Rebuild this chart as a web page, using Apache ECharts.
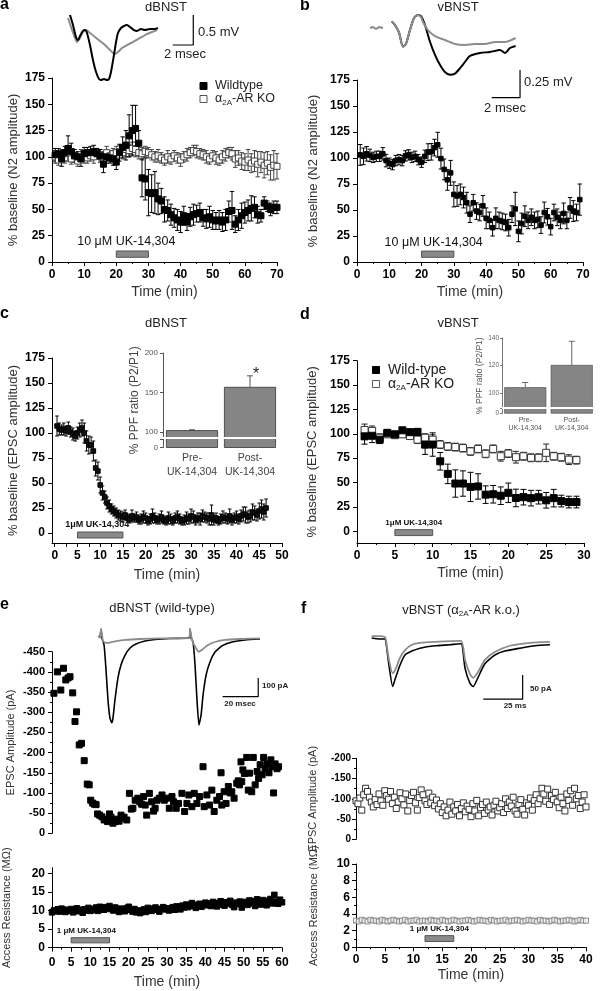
<!DOCTYPE html>
<html><head><meta charset="utf-8">
<script src="https://cdn.jsdelivr.net/npm/echarts@6/dist/echarts.min.js"></script>
<style>html,body{margin:0;padding:0;background:#fff}#c{width:600px;height:991px}</style>
</head><body><div id="c"></div>
<script>
const FONT = "'Liberation Sans', Arial, Helvetica, sans-serif";

// ---------- Panel a (dBNST field potentials) ----------
const aTime = [1,2,3,4,5,6,7,8,9,10,11,12,13,14,15,16,17,18,19,20,21,22,23,24,25,26,27,28,29,30,31,32,33,34,35,36,37,38,39,40,41,42,43,44,45,46,47,48,49,50,51,52,53,54,55,56,57,58,59,60,61,62,63,64,65,66,67,68,69,70];
const aWT = [102,103,98,104,108,105,101,100,98,103, 104,104,105,103,101,93,100,99,98,95, 104,109,111,120,125,127,113,80,79,66, 65,66,60,58,50,49,45,42,40,38, 44,38,43,45,46,47,42,41,43,40, 39,40,38,40,48,49,36,40,44,47, 49,51,52,45,44,56,53,50,52,52];
const aWTErr = [6,5,7,6,12,8,6,5,7,6, 5,6,6,5,6,8,6,5,6,7, 8,10,14,20,24,22,12,18,20,22, 18,20,15,12,12,10,10,9,10,10, 9,8,9,10,8,9,8,9,10,9, 8,9,9,10,10,18,8,10,12,10, 10,12,10,8,6,6,5,6,6,6];
const aKO = [100,97,101,99,103,98,101,96,102,100, 99,101,100,103,102,100,104,101,103,104, 105,104,107,106,108,107,104,103,105,104, 102,100,101,99,97,100,98,101,99,97, 100,102,104,106,105,103,102,100,98,101, 99,97,100,102,104,103,98,99,96,95, 97,94,96,93,95,92,94,90,92,91];
const aKOErr = [6,5,6,5,6,5,6,5,5,6, 5,5,6,5,5,5,6,5,5,6, 6,6,7,6,6,7,6,6,5,5, 5,5,6,5,5,6,5,5,5,6, 5,6,5,5,6,5,5,6,5,5, 6,5,6,6,5,6,8,7,8,8, 10,9,10,12,10,12,11,12,14,12];
const aDrug = [20, 30];
const aTraceBlack = [[0.97,0.083],[1.26,-0.083],[1.55,-0.283],[1.75,-0.333],[1.94,-0.267],[2.23,-0.183],[2.43,-0.167],[2.62,-0.217],[2.91,-0.417],[3.2,-0.667],[3.5,-0.867],[3.79,-0.983],[3.98,-1.0],[4.27,-0.983],[4.56,-1.0],[4.76,-0.983],[4.95,-0.867],[5.24,-0.583],[5.44,-0.367],[5.63,-0.217],[5.92,-0.133],[6.21,-0.1],[6.5,-0.083],[6.8,-0.117],[7.18,-0.167],[7.48,-0.183],[7.86,-0.15],[8.25,-0.167],[8.74,-0.15],[9.22,-0.15],[9.51,-0.133]];
const aTraceGray = [[0.78,0.033],[1.17,-0.167],[1.46,-0.3],[1.65,-0.367],[1.94,-0.3],[2.23,-0.2],[2.52,-0.167],[2.91,-0.217],[3.4,-0.283],[3.88,-0.35],[4.37,-0.417],[4.85,-0.5],[5.15,-0.55],[5.34,-0.567],[5.63,-0.533],[6.02,-0.467],[6.5,-0.417],[7.09,-0.367],[7.57,-0.317],[7.96,-0.283],[8.45,-0.233],[8.93,-0.2],[9.42,-0.167]];

// ---------- Panel b (vBNST field potentials) ----------
const bTime = [1,2,3,4,5,6,7,8,9,10,11,12,13,14,15,16,17,18,19,20,21,22,23,24,25,26,27,28,29,30,31,32,33,34,35,36,37,38,39,40,41,42,43,44,45,46,47,48,49,50,51,52,53,54,55,56,57,58,59,60,61,62,63,64,65,66,67,68,69];
const bVal = [103,101.6,104,102.5,100.6,101.6,101.6,104,97.5,95, 93.7,97.5,98.4,97.5,102,103,100.6,101.6,98.4,96, 101.6,105.7,106,110,112.7,99.4,89,79,85.7,65, 63.5,65,62,57,46,57,49,47.6,54,42, 40,33,42,40,39,38,33,46,51,29.5, 37,44,40,43,40,41,35.5,47.6,43.5,34, 47.6,43,40,46.7,40,52,49,47.6,60];
const bErr = [10,8,7,6,5,5,5,6,6,5, 5,5,5,5,5,5,5,5,5,5, 6,8,8,8,12,10,10,10,12,12, 10,10,10,10,8,8,8,8,10,10, 8,8,10,8,8,8,8,8,16,10, 10,10,8,8,8,8,8,10,8,8, 8,8,8,10,8,10,10,8,15];
const bDrug = [20, 30];
const bTraceArtifact = [[0.71,-0.058],[0.92,-0.049],[1.13,-0.067],[1.34,-0.049],[1.63,-0.058]];
const bTraceBlack = [[2.24,0.0],[2.47,-0.03],[2.76,-0.1],[3.04,-0.226],[3.25,-0.2],[3.53,-0.076],[3.82,0.033],[4.1,0.06],[4.31,0.05],[4.59,-0.03],[4.95,-0.184],[5.3,-0.3],[5.65,-0.39],[6.0,-0.455],[6.36,-0.48],[6.71,-0.47],[7.07,-0.42],[7.42,-0.364],[7.77,-0.31],[8.48,-0.283],[9.19,-0.274],[9.89,-0.256],[10.25,-0.283],[10.6,-0.238],[11.0,-0.22]];
const bTraceGray = [[2.24,0.0],[2.47,-0.03],[2.76,-0.1],[3.04,-0.226],[3.25,-0.2],[3.53,-0.076],[3.82,0.033],[4.1,0.06],[4.31,0.04],[4.45,-0.004],[4.8,-0.076],[5.3,-0.13],[6.0,-0.166],[6.71,-0.202],[7.42,-0.21],[8.13,-0.202],[8.83,-0.202],[9.54,-0.184],[10.25,-0.184],[11.0,-0.148]];

// ---------- Panel c (dBNST EPSC) ----------
const cStep = 0.5;
const cVal = [107,104,103,104,102,105,101,99,97,100, 103,105,100,92,88,88,82,65,62,48, 40,36,30,27,24,22,20,18,17,16, 18,15,14,17,15,16,13,14,16,15, 12,14,17,15,13,14,16,13,12,15, 14,12,15,16,14,12,13,15,14,17, 16,13,15,14,17,16,15,14,18,13, 15,12,14,16,15,14,17,13,15,16, 14,17,19,18,16,17,21,20,18,22, 24,21,25];
const cErr = [10,6,5,6,5,6,5,6,5,6, 7,8,10,10,9,8,10,8,9,8, 7,6,6,6,5,5,5,5,5,5, 5,4,4,6,4,5,4,5,6,5, 4,5,7,5,4,5,6,4,4,6, 5,4,5,6,5,4,5,6,5,7, 6,5,5,6,6,5,5,6,10,5, 5,4,5,6,5,5,7,5,5,6, 5,6,7,8,6,6,8,7,6,8, 9,8,9];
const cDrug = [5, 15];
const cInsetCats = ['Pre-\nUK-14,304', 'Post-\nUK-14,304'];
const cInsetVals = [102, 157];
const cInsetErr = [0.5, 14];

// ---------- Panel d (vBNST EPSC) ----------
const dTime = [1,2,3,4,5,6,7,8,9,10,11,12,13,14,15,16,17,18,19,20,21,22,23,24,25,26,27,28,29];
const dWT = [97.4,98,94,101,99.5,103.6,101.7,102,88.9,89, 71.8,58.9,49,49,45.5,46,37.6,38,36.5,39.5, 34.2,35,34,35,31.8,34,31,30,30];
const dWTErr = [8,7,4,3,3,3,3,3,10,12, 9,10,14,13,15,13,9,9,9,10, 9,8,8,7,8,9,6,6,6];
const dKO = [104,103,96,99.5,98.6,99.5,97.7,94,96,94, 89,87,86.4,85.4,82,84.5,79.5,84.5,77,79.8, 76,77,75.4,75.4,80.5,77,76,73.5,73];
const dKOErr = [6,5,4,3,3,3,3,4,4,5, 4,4,4,4,4,4,4,4,5,4, 6,4,4,4,9,4,4,5,4];
const dDrug = [5, 10];
const dInsetCats = ['Pre-\nUK-14,304', 'Post-\nUK-14,304'];
const dInsetVals = [104, 120.3];
const dInsetErr = [3.5, 17.3];

// ---------- Panel e (dBNST wild-type whole cell) ----------
const eAmp = [[0.5,-347],[1.4,-400],[2.3,-355],[3.0,-409],[3.6,-380],[4.2,-385],[4.7,-388],[5.4,-348],[6.0,-277],[6.4,-301],[7.1,-219],[7.7,-223],[8.4,-180],
 [9.2,-122],[9.7,-120],[10.1,-82],[10.6,-75],[11.1,-72],[11.5,-71],[11.9,-48],[12.4,-45],[13.0,-41],[13.6,-33],[14.0,-35],[14.5,-29],[15.0,-48],[15.4,-40],[15.9,-25],[16.5,-29],[17.1,-35],[17.5,-30],[18.0,-45],[18.4,-38],[18.8,-40],[19.5,-33],
 [20.2,-99],[20.7,-60],[21.1,-62],[21.7,-82],[22.4,-87],[22.9,-78],[23.4,-72],[23.9,-91],[24.3,-70],[24.7,-45],[25.4,-99],[26.0,-78],[26.5,-55],[26.9,-62],[27.4,-82],[28.0,-87],[28.7,-95],[29.3,-82],[29.9,-87],
 [30.6,-62],[31.3,-91],[31.7,-78],[32.4,-62],[33.0,-74],[33.9,-99],[34.6,-54],[35.2,-74],[35.7,-95],[36.5,-66],[37.1,-99],[37.8,-74],[38.5,-91],[39.4,-165],[39.7,-66],
 [40.4,-95],[41.1,-70],[41.7,-107],[42.3,-54],[43.0,-82],[43.7,-91],[44.1,-150],[44.3,-70],[44.9,-103],[45.4,-74],[46.0,-116],[46.5,-100],[46.9,-103],[47.5,-87],[48.2,-124],[48.6,-130],[48.9,-120],[49.3,-177],[49.5,-128],[49.8,-157],
 [50.2,-148],[50.8,-188],[51.2,-107],[51.5,-149],[52.1,-103],[52.5,-188],[53.0,-120],[53.5,-153],[53.9,-136],[54.3,-170],[54.8,-145],[55.2,-188],[55.6,-160],[56.1,-172],[56.6,-150],[57.1,-182],[57.4,-165],[57.8,-100],[58.2,-172],[58.7,-160],[59.1,-165]];
const eStep = 0.5;
const eAR = [9.5,10,9.8,10.3,9.7,10.5,10.1,9.6,10.2,9.9,10.4,9.5,10.0,10.6,9.8,10.2,9.4,10.3,10.0,10.7,9.9,
 10.4,10.1,10.8,9.9,11.0,10.5,10.2,10.9,10.4,11.2,10.6,10.0,10.8,10.3,9.6,10.5,10.1,9.8,10.6,11.0,
 10.2,9.7,10.4,9.5,10.0,9.3,9.8,10.3,9.6,10.7,10.1,9.9,10.5,10.8,10.2,9.7,10.4,10.9,10.3,10.6,
 10.0,10.5,10.9,10.2,11.1,10.6,10.3,11.3,10.8,11.6,10.9,11.4,12.0,11.2,10.7,11.5,11.8,11.0,11.6,12.1,
 11.4,11.9,11.2,12.3,11.7,11.1,12.0,12.5,11.6,11.3,12.2,11.8,12.6,11.5,10.9,12.1,11.7,12.4,10.8,11.9,
 12.3,11.5,12.7,11.9,12.5,11.2,13.0,12.1,11.6,12.8,12.2,11.4,12.6,13.1,11.9,14.2,12.4,11.8,12.9,12.2];
const eDrug = [5, 15];
const eTraceBlack = [[2.8,0],[3.4,46],[3.9,-2],[5.1,-39],[6.2,-173],[7.3,-334],[8.4,-430],[9.4,-455],[10.1,-430],[11.2,-334],[12.9,-215],[14.6,-146],[16.9,-93],[19.7,-55],[23.0,-34],[28.1,-18],[33.7,-10],[42.1,-4],[52.8,-2],[53.4,46],[53.9,0],[55.1,-23],[56.2,-146],[57.3,-334],[58.4,-467],[59.6,-414],[60.7,-307],[62.4,-200],[64.6,-130],[67.4,-77],[71.3,-44],[77.0,-23],[84.3,-12],[92.7,-7]];
const eTraceGray = [[1.7,9],[2.8,0],[3.4,46],[4.5,-18],[6.2,-28],[8.4,-26],[11.2,-20],[16.9,-12],[25.3,-7],[36.5,-4],[52.8,-2],[53.4,46],[54.5,-12],[56.7,-55],[58.4,-75],[60.7,-60],[63.5,-39],[67.4,-23],[73.0,-12],[81.5,-7],[92.7,-4]];

// ---------- Panel f (vBNST alpha2A-AR k.o. whole cell) ----------
const fStep = 1/3;
const fAmp = [-95,-88,-102,-72,-110,-126,-118,-104,-92,-80,-98,-86,
 -112,-95,-84,-120,-108,-99,-118,-88,-104,-76,-92,-115,
 -100,-85,-112,-70,-96,-108,-116,-90,-72,-103,-122,-110,
 -95,-86,-114,-90,-104,-83,-97,-75,-88,-66,-80,-58,
 -72,-92,-62,-80,-70,-86,-58,-76,-90,-68,-82,-74,
 -56,-88,-70,-96,-58,-78,-86,-64,-92,-72,-80,-60,
 -84,-94,-70,-78,-88,-66,-100,-76,-92,-82,-104,-70,
 -62,-86,-98,-74,-60,-90,-84,-102,-72,-96,-110,-88,
 -100,-126,-112,-94,-124,-86,-108,-98,-116,-92,-78,-104,
 -88,-70,-112,-96,-120,-84,-126,-100,-108,-76,-92,-110,-80];
const fARStep = 0.5;
const fAR = [3.2,3.1,3.3,3.2,3.1,3.3,3.2,3.2,3.1,3.3,3.2,3.1,3.2,3.3,3.2,3.1,3.2,3.3,3.1,3.2,3.2,3.3,3.1,3.2,3.2,3.1,3.3,3.2,3.2,3.1,3.3,3.2,3.1,3.2,3.3,3.2,3.1,3.2,3.2,3.3,3.2,3.1,3.2,3.3,3.2,3.2,3.1,3.3,3.2,3.1,3.2,3.2,3.3,3.1,3.2,3.2,3.3,3.2,3.1,3.2,3.3,3.2,3.2,3.1,3.3,3.2,3.2,3.1,3.2,3.3,3.2,3.1,3.2,3.2,3.3,3.2,3.1,3.2,3.3,3.2,3.2];
const fDrug = [12, 17];
const fTraceBlack = [[4.25,0],[9.5,-2],[12.7,-2],[13.3,-8],[15.2,-56],[17.6,-100],[19.0,-86],[22.2,-56],[25.4,-35],[29.8,-27],[34.9,-21],[44.4,-16],[53.9,-14],[60.3,-12],[61.4,-12],[63.5,-62],[66.6,-93],[68.7,-100],[71.1,-86],[76.1,-53],[82.5,-35],[88.8,-27],[98.4,-21],[107.9,-16],[117.4,-14]];
const fTraceGray = [[4.25,4],[9.5,4],[12.7,2],[13.3,-4],[15.2,-45],[17.6,-73],[19.7,-62],[22.2,-41],[25.4,-25],[29.8,-14],[34.9,-10],[44.4,-8],[60.9,-6],[63.5,-45],[66.6,-74],[68.7,-82],[71.8,-70],[76.1,-45],[82.5,-29],[92.0,-16],[104.7,-10],[117.4,-8]];

// ================= builders =================
function merge(a, b) {
  const o = Object.assign({}, a);
  for (const k in b) {
    const bv = b[k];
    if (bv && typeof bv === 'object' && !Array.isArray(bv) && a[k] && typeof a[k] === 'object' && !Array.isArray(a[k])) o[k] = merge(a[k], bv);
    else o[k] = bv;
  }
  return o;
}
const grids = [], xAxes = [], yAxes = [], series = [], graphics = [];
function panel(rect, xa, ya) {
  const i = grids.length;
  grids.push(Object.assign({ show: false, containLabel: false }, rect));
  xa.gridIndex = i; ya.gridIndex = i;
  xAxes.push(xa); yAxes.push(ya);
  return i;
}
function vAxis(extra) {
  return merge({
    type: 'value',
    axisLine: { show: true, onZero: false, lineStyle: { color: '#000', width: 1 } },
    axisTick: { show: true, length: 4, lineStyle: { color: '#000', width: 1 } },
    minorTick: { show: false },
    splitLine: { show: false },
    axisLabel: { color: '#000', fontWeight: 'bold', fontSize: 12, fontFamily: FONT, margin: 7 },
    nameLocation: 'middle',
    nameTextStyle: { color: '#333', fontSize: 13, fontFamily: FONT }
  }, extra || {});
}
function hidden(min, max) { return { type: 'value', show: false, min, max }; }
function zip(t, v) { return t.map((x, k) => [x, v[k]]); }
function zip3(t, v, e) { return t.map((x, k) => [x, v[k], e[k]]); }
function stepTimes(vals, start, step) { return vals.map((_, k) => +(start + k * step).toFixed(3)); }

function pts(i, name, data, size, fill, stroke, extra) {
  return Object.assign({
    type: 'scatter', name, xAxisIndex: i, yAxisIndex: i, z: 4, silent: true,
    symbol: 'rect', symbolSize: size, data,
    itemStyle: { color: fill, borderColor: stroke, borderWidth: 1, opacity: 1 }
  }, extra || {});
}
function errBars(i, rows, color, cap, upOnly) {
  return {
    type: 'custom', xAxisIndex: i, yAxisIndex: i, silent: true, z: 3, data: rows,
    encode: { x: 0, y: 1 },
    renderItem(params, api) {
      const x = api.value(0), y = api.value(1), e = api.value(2);
      const top = api.coord([x, y + e]);
      const bot = api.coord(upOnly ? [x, y] : [x, y - e]);
      const st = { stroke: color, lineWidth: 1 };
      const ch = [
        { type: 'line', shape: { x1: top[0], y1: top[1], x2: bot[0], y2: bot[1] }, style: st },
        { type: 'line', shape: { x1: top[0] - cap, y1: top[1], x2: top[0] + cap, y2: top[1] }, style: st }
      ];
      if (!upOnly) ch.push({ type: 'line', shape: { x1: bot[0] - cap, y1: bot[1], x2: bot[0] + cap, y2: bot[1] }, style: st });
      return { type: 'group', children: ch };
    }
  };
}
function drug(i, range, y0, y1, text, fs, fw, dx) {
  return {
    type: 'scatter', xAxisIndex: i, yAxisIndex: i, data: [], silent: true, z: 2,
    markArea: {
      silent: true,
      itemStyle: { color: '#8a8a8a', borderColor: '#555', borderWidth: 1 },
      label: { show: true, position: 'top', distance: 2, formatter: text, color: '#111', fontSize: fs, fontWeight: fw, fontFamily: FONT, offset: [dx || 0, 0] },
      data: [[{ xAxis: range[0], yAxis: y1 }, { xAxis: range[1], yAxis: y0 }]]
    }
  };
}
function trace(i, data, color, w, smooth) {
  return { type: 'line', xAxisIndex: i, yAxisIndex: i, data, showSymbol: false, silent: true, smooth: smooth || 0, lineStyle: { color, width: w || 1.5 }, z: 2 };
}
function bar(i, pts2) {
  return { type: 'line', xAxisIndex: i, yAxisIndex: i, data: pts2, showSymbol: false, silent: true, lineStyle: { color: '#000', width: 1.2 }, z: 2 };
}
function T(x, y, text, size, extra) {
  return { type: 'text', x, y, silent: true, z: 50, style: Object.assign({ text, fontSize: size, fontFamily: FONT, fill: '#222', align: 'left', verticalAlign: 'middle', textAlign: 'left', textVerticalAlign: 'middle' }, extra || {}) };
}
function C(x, y, text, size, extra) { return T(x, y, text, size, Object.assign({ align: 'center', textAlign: 'center' }, extra || {})); }
const alphaRich = { a: { fontSize: 13, fontFamily: FONT, fill: '#222' }, s: { fontSize: 8, fontFamily: FONT, fill: '#222', verticalAlign: 'bottom', padding: [7, 0, 0, 0] } };

// ================= Panel a =================
let i = panel({ left: 52, top: 78, width: 225, height: 184 },
  vAxis({ min: 0, max: 70, interval: 10, name: 'Time (min)', nameGap: 23, nameTextStyle: { fontSize: 14 }, minorTick: { show: true, splitNumber: 2, length: 2, lineStyle: { color: '#000' } } }),
  vAxis({ min: 0, max: 175, interval: 25, name: '% baseline (N2 amplitude)', nameGap: 32 }));
series.push(errBars(i, zip3(aTime, aKO, aKOErr), '#444', 2.2));
series.push(errBars(i, zip3(aTime, aWT, aWTErr), '#000', 2.2));
series.push(pts(i, 'α2A-AR KO', zip(aTime, aKO), 6, '#fff', '#444'));
series.push(pts(i, 'Wildtype', zip(aTime, aWT), 6, '#000', '#000'));
series.push(drug(i, aDrug, 4.5, 10.5, '10 μM UK-14,304', 12.5, 'normal', -6));
let t = panel({ left: 60, top: 5, width: 140, height: 90 }, hidden(0, 140 / 10.3), hidden(-1.25, 0.25));
series.push(trace(t, aTraceGray, '#8c8c8c', 2, 0.25));
series.push(trace(t, aTraceBlack, '#000', 2, 0.25));
series.push(bar(t, [[10.94, -0.417], [12.94, -0.417], [12.94, 0.083]]));

// ================= Panel b =================
i = panel({ left: 357, top: 80, width: 226, height: 182 },
  vAxis({ min: 0, max: 70, interval: 10, name: 'Time (min)', nameGap: 23, nameTextStyle: { fontSize: 14 }, minorTick: { show: true, splitNumber: 2, length: 2, lineStyle: { color: '#000' } } }),
  vAxis({ min: 0, max: 175, interval: 25, name: '% baseline (N2 amplitude)', nameGap: 37 }));
series.push(errBars(i, zip3(bTime, bVal, bErr), '#000', 2.2));
series.push(pts(i, 'vBNST', zip(bTime, bVal), 4.5, '#000', '#000'));
series.push(drug(i, bDrug, 4.5, 10.5, '10 μM UK-14,304', 12.5, 'normal', -4));
t = panel({ left: 360, top: 5, width: 170, height: 99.7 }, hidden(0, 170 / 14.15), hidden(-0.75, 0.15));
series.push(trace(t, bTraceArtifact, '#8c8c8c', 2, 0));
series.push(trace(t, bTraceBlack, '#000', 2, 0.25));
series.push(trace(t, bTraceGray, '#8c8c8c', 2, 0.25));
series.push(bar(t, [[9.31, -0.687], [11.31, -0.687], [11.31, -0.437]]));

// ================= Panel c =================
const cTime = stepTimes(cVal, 0.5, cStep);
i = panel({ left: 52, top: 358, width: 230, height: 185 },
  vAxis({ min: -0.6, max: 50, name: 'Time (min)', nameGap: 25, nameTextStyle: { fontSize: 14 },
    axisLabel: { customValues: [0,5,10,15,20,25,30,35,40,45,50] }, axisTick: { customValues: [0,2.5,5,7.5,10,12.5,15,17.5,20,22.5,25,27.5,30,32.5,35,37.5,40,42.5,45,47.5,50] } }),
  vAxis({ min: -10, max: 175, name: '% baseline (EPSC amplitude)', nameGap: 32,
    axisLabel: { customValues: [0,25,50,75,100,125,150,175] }, axisTick: { customValues: [0,25,50,75,100,125,150,175] } }));
series.push(errBars(i, zip3(cTime, cVal, cErr), '#000', 1.8));
series.push(pts(i, 'dBNST', zip(cTime, cVal), 4.5, '#111', '#000'));
series.push(drug(i, cDrug, -5, 1, '1μM UK-14,304', 9, 'bold', -3));
// inset c
i = panel({ left: 163, top: 353, width: 116, height: 94.5 },
  { type: 'category', data: cInsetCats, axisLine: { show: false }, axisTick: { show: false },
    axisLabel: { interval: 0, color: '#444', fontSize: 10.5, fontFamily: FONT, lineHeight: 14, margin: 4 } },
  vAxis({ min: 80, max: 200, name: '% PPF ratio (P2/P1)', nameGap: 17, nameTextStyle: { fontSize: 12, color: '#444' },
    axisLine: { lineStyle: { color: '#555' } }, axisTick: { length: 3, lineStyle: { color: '#555' }, customValues: [80, 90, 100, 150, 200] },
    axisLabel: { customValues: [80, 100, 150, 200], fontSize: 8, fontWeight: 'normal', color: '#555', margin: 5, formatter: v => v === 80 ? '0' : String(v) } }));
series.push({ type: 'bar', xAxisIndex: i, yAxisIndex: i, data: cInsetVals, barWidth: 52, silent: true, z: 3,
  itemStyle: { color: '#858585', borderColor: '#333', borderWidth: 0.8 },
  markLine: { silent: true, symbol: 'none', label: { show: false }, lineStyle: { color: '#fff', width: 2, type: 'solid' }, data: [{ yAxis: 92 }] } });
series.push(errBars(i, cInsetCats.map((c, k) => [c, cInsetVals[k], cInsetErr[k]]), '#555', 3, true));

// ================= Panel d =================
i = panel({ left: 357, top: 360.7, width: 227, height: 182.3 },
  vAxis({ min: 0, max: 30, interval: 5, name: 'Time (min)', nameGap: 23, nameTextStyle: { fontSize: 14 }, minorTick: { show: true, splitNumber: 2, length: 2, lineStyle: { color: '#000' } } }),
  vAxis({ min: -12, max: 175, name: '% baseline (EPSC amplitude)', nameGap: 38,
    axisLabel: { customValues: [0,25,50,75,100,125,150,175] }, axisTick: { customValues: [0,25,50,75,100,125,150,175] } }));
series.push(errBars(i, zip3(dTime, dKO, dKOErr), '#222', 3));
series.push(errBars(i, zip3(dTime, dWT, dWTErr), '#000', 3));
series.push(pts(i, 'α2A-AR KO', zip(dTime, dKO), 7, '#fff', '#333'));
series.push(pts(i, 'Wild-type', zip(dTime, dWT), 7, '#000', '#000'));
series.push(drug(i, dDrug, -4.4, 1.7, '1μM UK-14,304', 8, 'bold', 0));
// inset d
i = panel({ left: 502, top: 338, width: 93, height: 75.3 },
  { type: 'category', data: dInsetCats, axisLine: { show: false }, axisTick: { show: false },
    axisLabel: { interval: 0, color: '#555', fontSize: 7, fontFamily: FONT, lineHeight: 8, margin: 3 } },
  vAxis({ min: 85, max: 140, name: '% PPF ratio (P2/P1)', nameGap: 13, nameTextStyle: { fontSize: 8.5, color: '#555' },
    axisLine: { lineStyle: { color: '#777' } }, axisTick: { length: 2, lineStyle: { color: '#777' }, customValues: [85, 89, 100, 120, 140] },
    axisLabel: { customValues: [85, 100, 120, 140], fontSize: 6.5, fontWeight: 'normal', color: '#666', margin: 3, formatter: v => v === 85 ? '0' : String(v) } }));
series.push({ type: 'bar', xAxisIndex: i, yAxisIndex: i, data: dInsetVals, barWidth: 42, silent: true, z: 3,
  itemStyle: { color: '#858585', borderColor: '#444', borderWidth: 0.6 },
  markLine: { silent: true, symbol: 'none', label: { show: false }, lineStyle: { color: '#fff', width: 2, type: 'solid' }, data: [{ yAxis: 89 }] } });
series.push(errBars(i, dInsetCats.map((c, k) => [c, dInsetVals[k], dInsetErr[k]]), '#666', 3, true));

// ================= Panel e =================
i = panel({ left: 52, top: 651.7, width: 230, height: 181.6 },
  hidden(0, 60),
  vAxis({ min: -450, max: 0, interval: 50, inverse: true, name: 'EPSC Amplitude (pA)', nameGap: 36,
    nameTextStyle: { fontSize: 11 }, axisLabel: { fontSize: 11 }, minorTick: { show: true, splitNumber: 2, length: 2, lineStyle: { color: '#000' } } }));
series.push(pts(i, 'EPSC', eAmp, 6, '#000', '#000'));
const eARTime = stepTimes(eAR, 0, eStep);
i = panel({ left: 52, top: 867.7, width: 230, height: 80 },
  vAxis({ min: 0, max: 60, interval: 5, name: 'Time (min)', nameGap: 27, nameTextStyle: { fontSize: 14 }, axisLabel: { margin: 9 },
    minorTick: { show: true, splitNumber: 2, length: 2, lineStyle: { color: '#000' } } }),
  vAxis({ min: 0, max: 21.5, name: 'Access Resistance (MΩ)', nameGap: 40, nameTextStyle: { fontSize: 11 },
    axisLabel: { customValues: [0, 5, 10, 15, 20] }, axisTick: { customValues: [0, 5, 10, 15, 20] } }));
series.push(pts(i, 'AR', zip(eARTime, eAR), 5.5, '#000', '#000'));
series.push(drug(i, eDrug, 1.3, 2.7, '1 μM UK-14,304', 8, 'bold', -4));
t = panel({ left: 95, top: 619, width: 178, height: 112.2 }, hidden(0, 100), hidden(-500, 100));
series.push(trace(t, eTraceBlack, '#000', 1.6, 0.15));
series.push(trace(t, eTraceGray, '#8c8c8c', 1.8, 0.15));
series.push(bar(t, [[71.7, -315.5], [91.7, -315.5], [91.7, -215.5]]));

// ================= Panel f =================
const fTime = stepTimes(fAmp, 0, fStep);
i = panel({ left: 356, top: 758.3, width: 230, height: 81 },
  hidden(0, 40),
  vAxis({ min: -200, max: 0, interval: 50, inverse: true, name: 'EPSC Amplitude (pA)', nameGap: 38,
    nameTextStyle: { fontSize: 11 }, axisLabel: { fontSize: 10, margin: 5 }, minorTick: { show: true, splitNumber: 2, length: 2, lineStyle: { color: '#000' } } }));
series.push(pts(i, 'EPSC KO', zip(fTime, fAmp), 6, '#fff', '#333'));
const fARTime = stepTimes(fAR, 0, fARStep);
i = panel({ left: 356, top: 864, width: 230, height: 83.3 },
  vAxis({ min: 0, max: 40, interval: 5, name: 'Time (min)', nameGap: 21, nameTextStyle: { fontSize: 14 }, axisLabel: { margin: 6 },
    minorTick: { show: true, splitNumber: 2, length: 2, lineStyle: { color: '#000' } } }),
  vAxis({ min: 0, max: 10, interval: 2, name: 'Access Resistance (MΩ)', nameGap: 37, nameTextStyle: { fontSize: 11 },
    axisLabel: { margin: 6 },
    minorTick: { show: true, splitNumber: 2, length: 2, lineStyle: { color: '#000' } } }));
series.push(pts(i, 'AR KO', zip(fARTime, fAR), 5, '#fff', '#888', { itemStyle: { color: '#f2f2f2', borderColor: '#777', borderWidth: 1 } }));
series.push(drug(i, fDrug, 0.7, 1.4, '1 μM UK-14,304', 8, 'bold', 0));
t = panel({ left: 365, top: 625, width: 189, height: 81 }, hidden(0, 120), hidden(-140, 26.7));
series.push(trace(t, fTraceBlack, '#000', 1.6, 0.2));
series.push(trace(t, fTraceGray, '#8c8c8c', 1.8, 0.2));
series.push(bar(t, [[75.1, -126], [100.1, -126], [100.1, -76]]));

// ================= texts =================
graphics.push(
  T(0, 5, 'a', 16, { fontWeight: 'bold', fill: '#000' }), C(166, 7, 'dBNST', 13),
  T(300, 6, 'b', 16, { fontWeight: 'bold', fill: '#000' }), C(458, 7, 'vBNST', 13),
  T(0, 314, 'c', 16, { fontWeight: 'bold', fill: '#000' }), C(166, 323, 'dBNST', 13),
  T(300, 315, 'd', 16, { fontWeight: 'bold', fill: '#000' }), C(458, 323, 'vBNST', 13),
  T(0, 605, 'e', 16, { fontWeight: 'bold', fill: '#000' }), C(162, 608, 'dBNST (wild-type)', 13),
  T(301, 609, 'f', 16, { fontWeight: 'bold', fill: '#000' }),
  C(461, 610, '{a|vBNST (α}{s|2A}{a|-AR k.o.)}', 13, { rich: alphaRich }),
  T(198, 32, '0.5 mV', 13), C(185, 54, '2 msec', 13),
  T(524, 82, '0.25 mV', 13), C(505, 108, '2 msec', 13),
  T(262, 686, '100 pA', 8, { fontWeight: 'bold' }), C(240, 704, '20 msec', 8, { fontWeight: 'bold' }),
  T(530, 689, '50 pA', 8, { fontWeight: 'bold' }), C(515, 706, '25 ms', 8, { fontWeight: 'bold' }),
  C(256, 375, '*', 16),
  // legend a
  { type: 'rect', silent: true, z: 50, shape: { x: 200, y: 82.5, width: 7, height: 7 }, style: { fill: '#000', stroke: '#000' } },
  T(215, 86, 'Wildtype', 12.5),
  { type: 'rect', silent: true, z: 50, shape: { x: 200, y: 95.5, width: 7, height: 7 }, style: { fill: '#fff', stroke: '#555', lineWidth: 1 } },
  T(215, 99, '{a|α}{s|2A}{a|-AR KO}', 12.5, { rich: { a: { fontSize: 12.5, fontFamily: FONT, fill: '#222' }, s: { fontSize: 8, fontFamily: FONT, fill: '#222', verticalAlign: 'bottom', padding: [7, 0, 0, 0] } } }),
  // legend d
  { type: 'rect', silent: true, z: 50, shape: { x: 372.5, y: 366.5, width: 7, height: 7 }, style: { fill: '#000', stroke: '#000' } },
  T(388, 370, 'Wild-type', 14),
  { type: 'rect', silent: true, z: 50, shape: { x: 372.5, y: 380.5, width: 7, height: 7 }, style: { fill: '#fff', stroke: '#555', lineWidth: 1 } },
  T(388, 384, '{a|α}{s|2A}{a|-AR KO}', 14, { rich: { a: { fontSize: 14, fontFamily: FONT, fill: '#222' }, s: { fontSize: 8, fontFamily: FONT, fill: '#222', verticalAlign: 'bottom', padding: [8, 0, 0, 0] } } })
);

const chart = echarts.init(document.getElementById('c'), null, { renderer: 'canvas' });
chart.setOption({ animation: false, backgroundColor: '#fff', grid: grids, xAxis: xAxes, yAxis: yAxes, series, graphic: { elements: graphics } });
</script></body></html>
